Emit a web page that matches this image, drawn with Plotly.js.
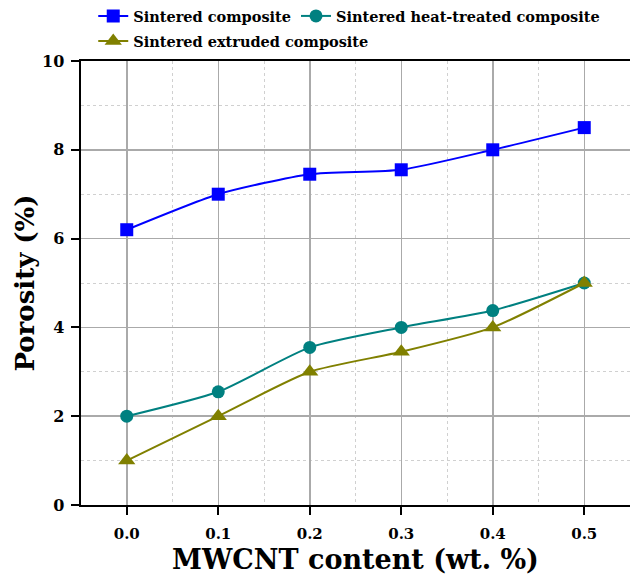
<!DOCTYPE html>
<html>
<head>
<meta charset="utf-8">
<script src="https://cdn.plot.ly/plotly-3.0.1.min.js"></script>
<style>html,body{margin:0;padding:0;background:#fff;}#chart{width:630px;height:584px;}</style>
</head>
<body>
<div id="chart"></div>
<script>
const mwcnt = [0.0, 0.1, 0.2, 0.3, 0.4, 0.5];
const sintered = [6.2, 7.0, 7.45, 7.55, 8.0, 8.5];
const heatTreated = [2.0, 2.55, 3.55, 4.0, 4.38, 5.0];
const extruded = [1.0, 2.0, 3.0, 3.45, 4.0, 5.0];
const seriesNames = ['Sintered composite', 'Sintered heat-treated composite', 'Sintered extruded composite'];
const xTickVals = [0.0, 0.1, 0.2, 0.3, 0.4, 0.5];
const xTickText = ['0.0', '0.1', '0.2', '0.3', '0.4', '0.5'];
const yTickVals = [0, 2, 4, 6, 8, 10];

const serif = 'DejaVu Serif, serif';
const legendFont = {family: serif, size: 14.5, color: '#000', weight: 'bold'};

const traces = [
  {x: mwcnt, y: sintered, name: seriesNames[0], type: 'scatter', mode: 'lines+markers', legend: 'legend',
   line: {color: '#0000ff', width: 2, shape: 'spline', smoothing: 0.6},
   marker: {symbol: 'square', size: 13, color: '#0000ff'}},
  {x: mwcnt, y: heatTreated, name: seriesNames[1], type: 'scatter', mode: 'lines+markers', legend: 'legend',
   line: {color: '#008080', width: 2, shape: 'spline', smoothing: 0.6},
   marker: {symbol: 'circle', size: 13, color: '#008080'}},
  {x: mwcnt, y: extruded, name: seriesNames[2], type: 'scatter', mode: 'lines+markers', legend: 'legend2',
   line: {color: '#808000', width: 2, shape: 'spline', smoothing: 0.6},
   marker: {symbol: 'triangle-up', size: 15, color: '#808000'}}
];

const layout = {
  width: 630, height: 584,
  margin: {l: 81, r: 0, t: 61, b: 79, autoexpand: false},
  paper_bgcolor: '#ffffff', plot_bgcolor: '#ffffff',
  showlegend: true,
  legend: {orientation: 'h', xref: 'container', yref: 'container', x: 0.148, y: 1.0,
           xanchor: 'left', yanchor: 'top', bgcolor: 'rgba(0,0,0,0)',
           font: legendFont, tracegroupgap: 0, itemwidth: 30},
  legend2: {orientation: 'h', xref: 'container', yref: 'container', x: 0.148, y: 0.957,
           xanchor: 'left', yanchor: 'top', bgcolor: 'rgba(0,0,0,0)',
           font: legendFont, tracegroupgap: 0, itemwidth: 30},
  xaxis: {
    range: [-0.05, 0.55], tickvals: xTickVals, ticktext: xTickText,
    showline: true, linecolor: '#000', linewidth: 2, mirror: true,
    ticks: 'outside', ticklen: 8, tickwidth: 2, tickcolor: '#000',
    ticklabelstandoff: 6,
    showgrid: true, gridcolor: '#aaaaaa', gridwidth: 1.5,
    minor: {dtick: 0.05, tick0: 0.05, showgrid: true, gridcolor: '#d0d0d0', griddash: 'dot', gridwidth: 1, ticks: ''},
    zeroline: false,
    tickfont: {family: serif, size: 15, color: '#000', weight: 'bold'},
    title: {text: 'MWCNT content (wt. %)', font: {family: serif, size: 27, color: '#000', weight: 'bold'}, standoff: 8}
  },
  yaxis: {
    range: [0, 10], tickvals: yTickVals,
    showline: true, linecolor: '#000', linewidth: 2.5,
    ticks: 'outside', ticklen: 8, tickwidth: 2, tickcolor: '#000',
    ticklabelstandoff: 3,
    showgrid: true, gridcolor: '#aaaaaa', gridwidth: 1.5,
    minor: {dtick: 1, showgrid: true, gridcolor: '#d0d0d0', griddash: 'dot', gridwidth: 1, ticks: ''},
    zeroline: false,
    tickfont: {family: serif, size: 16, color: '#000', weight: 'bold'},
    title: {text: 'Porosity (%)', font: {family: serif, size: 26, color: '#000', weight: 'bold'}, standoff: 0}
  }
};

Plotly.newPlot('chart', traces, layout, {displayModeBar: false, staticPlot: true});
</script>
</body>
</html>
